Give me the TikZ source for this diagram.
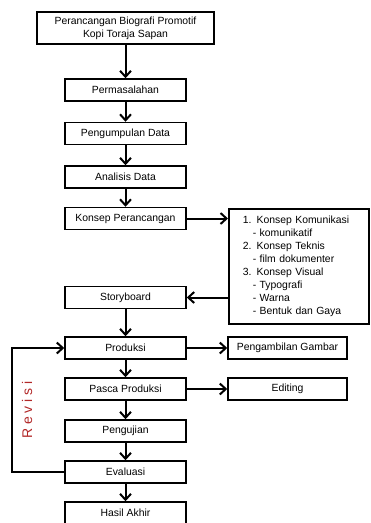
\documentclass[tikz,border=0pt]{standalone}
\usepackage{fontspec}
\setmainfont{Liberation Sans}
\usepackage{tikz}
\usetikzlibrary{arrows.meta}
\definecolor{revred}{RGB}{178,40,40}

\begin{document}
\begin{tikzpicture}[x=1pt,y=-1pt,
	box/.style={draw,line width=1.5pt,minimum width=121pt,minimum height=22pt,inner sep=0pt,font=\fontsize{10.4}{13}\selectfont},
	conn/.style={line width=2pt,-{Straight Barb[length=6pt,width=11pt]}}]
	\useasboundingbox (0,0) rectangle (371,523);

	%the main flow
	\node[box,line width=2.6pt,minimum width=177pt,minimum height=32pt,align=center] (judul) at (125.5,28) {Perancangan Biografi Promotif\\Kopi Toraja Sapan};
	\node[box] (masalah) at (125.5,90) {Permasalahan};
	\node[box] (data) at (125.5,133.5) {Pengumpulan Data};
	\node[box] (analisis) at (125.5,177) {Analisis Data};
	\node[box] (konsep) at (125.5,218.5) {Konsep Perancangan};
	\node[box] (story) at (125.5,297.5) {Storyboard};
	\node[box] (produksi) at (125.5,348) {Produksi};
	\node[box] (pasca) at (125.5,389) {Pasca Produksi};
	\node[box] (uji) at (125.5,431) {Pengujian};
	\node[box] (evaluasi) at (125.5,472) {Evaluasi};
	\node[box,minimum height=30pt] (hasil) at (125.5,517) {};
	\node[font=\fontsize{10.4}{13}\selectfont] (hasiltxt) at (125.5,513) {Hasil Akhir};

	\draw[conn] (judul) -- (masalah);
	\draw[conn] (masalah) -- (data);
	\draw[conn] (data) -- (analisis);
	\draw[conn] (analisis) -- (konsep);
	\draw[conn] (story) -- (produksi);
	\draw[conn] (produksi) -- (pasca);
	\draw[conn] (pasca) -- (uji);
	\draw[conn] (uji) -- (evaluasi);
	\draw[conn] (evaluasi) -- (hasil);

	%the right side
	\node[box,anchor=west,minimum width=0pt,text width=112pt,inner xsep=14pt,minimum height=115pt,align=left] (isi) at (228,266.5) {1. Konsep Komunikasi\\
		\hspace*{10pt}- komunikatif\\
		2. Konsep Teknis\\
		\hspace*{10pt}- film dokumenter\\
		3. Konsep Visual\\
		\hspace*{10pt}- Typografi\\
		\hspace*{10pt}- Warna\\
		\hspace*{10pt}- Bentuk dan Gaya};
	\node[box,minimum width=119pt] (gambar) at (287.5,348) {Pengambilan Gambar};
	\node[box,minimum width=119pt] (edit) at (287.5,389) {Editing};

	\draw[conn] (konsep.east) -- (isi.west |- konsep.east);
	\draw[conn] (isi.west |- story.east) -- (story.east);
	\draw[conn] (produksi) -- (gambar);
	\draw[conn] (pasca) -- (edit);

	%revisi loop
	\draw[conn] (evaluasi.west) -- ++(-52,0) |- (produksi.west);
	\node[rotate=90,text=revred,font=\fontsize{14}{16}\selectfont] (revisi) at (27,410) {R e v i s i};
\end{tikzpicture}
\end{document}
